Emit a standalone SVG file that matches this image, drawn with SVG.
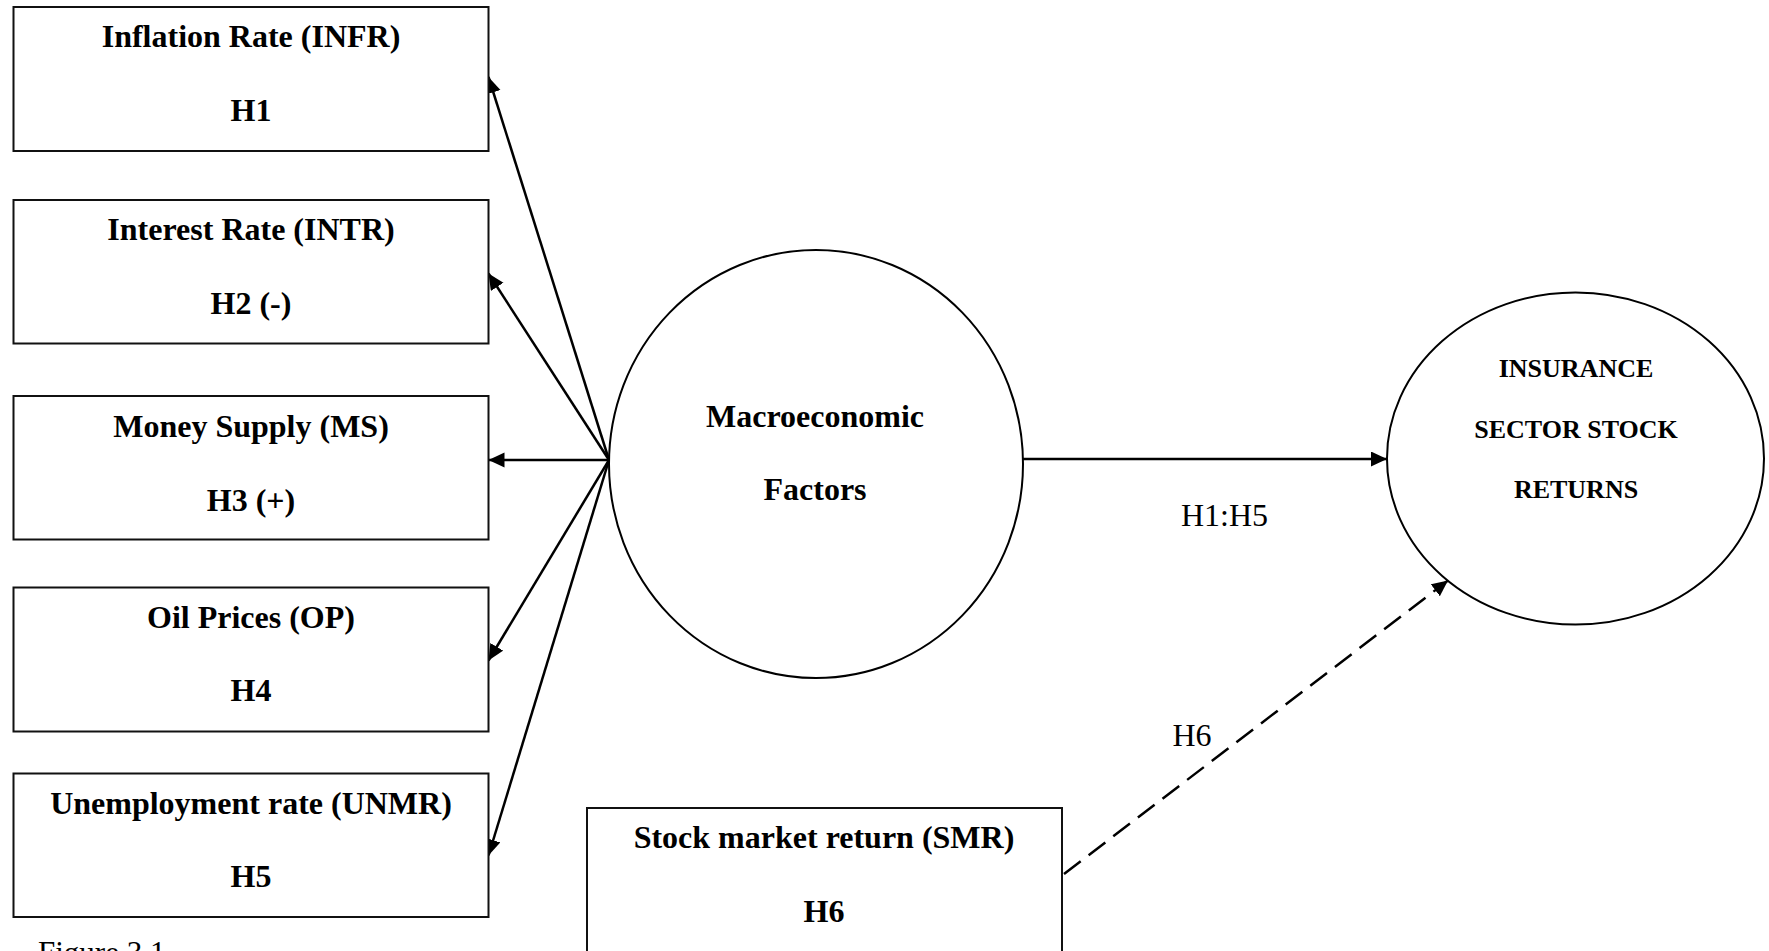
<svg xmlns="http://www.w3.org/2000/svg" width="1769" height="951" viewBox="0 0 1769 951">
<style>
.box{fill:#fff;stroke:#111;stroke-width:2}
.shape{fill:#fff;stroke:#000;stroke-width:2}
.b{font-family:"Liberation Serif","Times New Roman",serif;font-weight:bold;font-size:32px;fill:#000;text-anchor:middle}
.s{font-family:"Liberation Serif","Times New Roman",serif;font-weight:bold;font-size:26px;fill:#000;text-anchor:middle}
.r{font-family:"Liberation Serif","Times New Roman",serif;font-size:32px;fill:#000;text-anchor:middle}
.f{font-family:"Liberation Serif","Times New Roman",serif;font-size:31px;fill:#000}
.line{fill:none;stroke:#000;stroke-width:2.5}
.dash{fill:none;stroke:#000;stroke-width:2.5;stroke-dasharray:21 10}
</style>
<defs>
<marker id="ah" markerUnits="userSpaceOnUse" markerWidth="18" markerHeight="16" refX="16" refY="7.5" orient="auto">
<path d="M0,0 L16,7.5 L0,15 z" fill="#000"/>
</marker>
</defs>
<rect width="1769" height="951" fill="#fff"/>
<g id="connectors">
<line class="line" x1="609" y1="460" x2="488.5" y2="77" marker-end="url(#ah)"/>
<line class="line" x1="609" y1="460" x2="488.5" y2="273.5" marker-end="url(#ah)"/>
<line class="line" x1="609" y1="460" x2="488.5" y2="460" marker-end="url(#ah)"/>
<line class="line" x1="609" y1="460" x2="488.5" y2="660.5" marker-end="url(#ah)"/>
<line class="line" x1="609" y1="460" x2="488.5" y2="855.5" marker-end="url(#ah)"/>
<line class="line" x1="1022.5" y1="459" x2="1387" y2="459" marker-end="url(#ah)"/>
<line class="dash" x1="1064" y1="874" x2="1448" y2="580.5" marker-end="url(#ah)"/>
<text class="r" x="1224.5" y="525.5">H1:H5</text>
<text class="r" x="1192" y="745.5">H6</text>
</g>
<g id="infr">
<rect class="box" x="13.5" y="7" width="475" height="144"/>
<text class="b" x="251" y="46.7">Inflation Rate (INFR)</text>
<text class="b" x="251" y="120.7">H1</text>
</g>
<g id="intr">
<rect class="box" x="13.5" y="200" width="475" height="143.5"/>
<text class="b" x="251" y="240">Interest Rate (INTR)</text>
<text class="b" x="251" y="314">H2 (-)</text>
</g>
<g id="ms">
<rect class="box" x="13.5" y="396" width="475" height="143.5"/>
<text class="b" x="251" y="437.3">Money Supply (MS)</text>
<text class="b" x="251" y="510.8">H3 (+)</text>
</g>
<g id="op">
<rect class="box" x="13.5" y="587.5" width="475" height="144"/>
<text class="b" x="251" y="628.4">Oil Prices (OP)</text>
<text class="b" x="251" y="701">H4</text>
</g>
<g id="unmr">
<rect class="box" x="13.5" y="773.5" width="475" height="143.5"/>
<text class="b" x="251" y="814.2">Unemployment rate (UNMR)</text>
<text class="b" x="251" y="887">H5</text>
</g>
<g id="macro">
<ellipse class="shape" cx="816" cy="464" rx="207" ry="214"/>
<text class="b" x="815" y="426.5">Macroeconomic</text>
<text class="b" x="815" y="500">Factors</text>
</g>
<g id="returns">
<ellipse class="shape" cx="1575.5" cy="458.5" rx="188.5" ry="166"/>
<text class="s" x="1576" y="377.3">INSURANCE</text>
<text class="s" x="1576" y="437.7">SECTOR STOCK</text>
<text class="s" x="1576" y="498.3">RETURNS</text>
</g>
<g id="smr">
<rect class="box" x="587" y="808" width="475" height="150"/>
<text class="b" x="824" y="848.3">Stock market return (SMR)</text>
<text class="b" x="824" y="921.7">H6</text>
</g>
<g id="caption">
<text class="f" x="38" y="962.5">Figure 3.1</text>
</g>
</svg>
